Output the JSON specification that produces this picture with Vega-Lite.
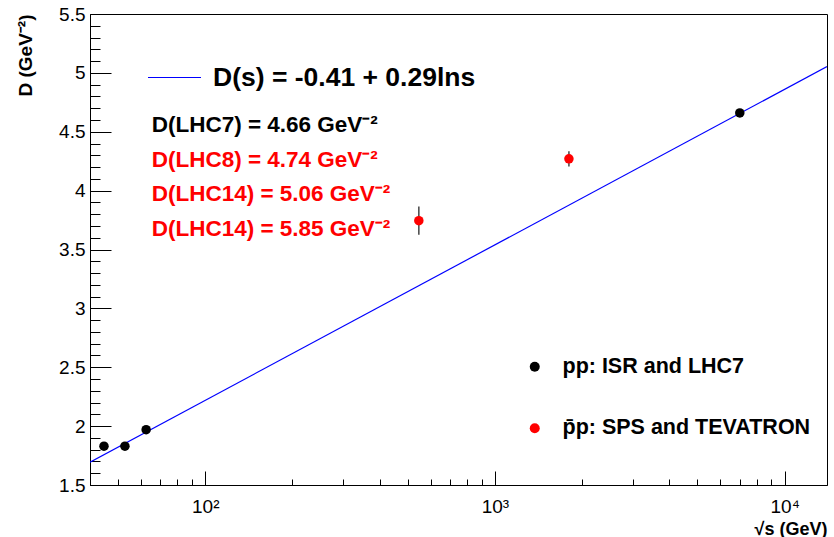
{
  "$schema": "https://vega.github.io/schema/vega-lite/v6.json",
  "autosize": {"type": "none"},
  "padding": {"left": 90, "top": 14, "right": 7, "bottom": 52},
  "width": 737,
  "height": 471,
  "background": "white",
  "config": {
    "font": "Liberation Sans",
    "view": {"stroke": "black", "strokeWidth": 1},
    "axis": {"domainColor": "black", "tickColor": "black", "labelColor": "black", "titleColor": "black", "grid": false}
  },
  "datasets": {
    "points": [
      {"sqrts": 44.7, "D": 1.83, "beam": "pp: ISR and LHC7"},
      {"sqrts": 52.8, "D": 1.83, "beam": "pp: ISR and LHC7"},
      {"sqrts": 62.5, "D": 1.97, "beam": "pp: ISR and LHC7"},
      {"sqrts": 7000, "D": 4.66, "beam": "pp: ISR and LHC7"},
      {"sqrts": 546, "D": 3.745, "Dlo": 3.625, "Dhi": 3.865, "beam": "p̄p: SPS and TEVATRON"},
      {"sqrts": 1800, "D": 4.27, "Dlo": 4.205, "Dhi": 4.335, "beam": "p̄p: SPS and TEVATRON"}
    ],
    "fit": [
      {"sqrts": 40, "D": 1.694, "fit": "D(s) = -0.41 + 0.29lns"},
      {"sqrts": 14000, "D": 5.053, "fit": "D(s) = -0.41 + 0.29lns"}
    ]
  },
  "layer": [
    {
      "data": {"name": "fit"},
      "mark": {"type": "line", "strokeWidth": 1.2, "clip": true},
      "encoding": {
        "x": {
          "field": "sqrts", "type": "quantitative",
          "scale": {"type": "log", "domain": [40, 14000], "nice": false, "zero": false},
          "axis": {
            "values": [50, 60, 70, 80, 90, 100, 200, 300, 400, 500, 600, 700, 800, 900, 1000, 2000, 3000, 4000, 5000, 6000, 7000, 8000, 9000, 10000],
            "tickCount": 200,
            "tickSize": {"condition": {"test": "abs(log(datum.value)/LN10 - round(log(datum.value)/LN10)) < 0.001", "value": -14}, "value": -6},
            "labelExpr": "datum.value == 100 ? '10²' : datum.value == 1000 ? '10³' : datum.value == 10000 ? '10⁴' : ''",
            "labelFontSize": 19,
            "labelPadding": 26,
            "labelOverlap": false,
            "labelFlush": false,
            "title": "√s (GeV)",
            "titleAnchor": "end",
            "titleFontSize": 18,
            "titleFontWeight": "bold",
            "titlePadding": -4
          }
        },
        "y": {
          "field": "D", "type": "quantitative",
          "scale": {"domain": [1.5, 5.5], "nice": false, "zero": false},
          "axis": {
            "values": [1.5, 1.6, 1.7, 1.8, 1.9, 2.0, 2.1, 2.2, 2.3, 2.4, 2.5, 2.6, 2.7, 2.8, 2.9, 3.0, 3.1, 3.2, 3.3, 3.4, 3.5, 3.6, 3.7, 3.8, 3.9, 4.0, 4.1, 4.2, 4.3, 4.4, 4.5, 4.6, 4.7, 4.8, 4.9, 5.0, 5.1, 5.2, 5.3, 5.4, 5.5],
            "tickCount": 200,
            "tickSize": {"condition": {"test": "abs(datum.value*2 - round(datum.value*2)) < 0.001", "value": -21}, "value": -10},
            "labelExpr": "abs(datum.value*2 - round(datum.value*2)) < 0.001 ? toString(round(datum.value*10)/10) : ''",
            "labelFontSize": 19,
            "labelPadding": 26,
            "labelOverlap": false,
            "labelFlush": false,
            "title": "D (GeV⁻²)",
            "titleAnchor": "end",
            "titleFontSize": 19,
            "titleFontWeight": "bold",
            "titlePadding": 23
          }
        },
        "stroke": {
          "field": "fit", "type": "nominal",
          "scale": {"range": ["#0000ff"]},
          "legend": {
            "orient": "none", "legendX": 57, "legendY": 36, "title": null, "padding": 0,
            "symbolType": "stroke", "symbolSize": 2809, "symbolStrokeWidth": 1.2, "symbolStrokeColor": "#0000ff",
            "labelFontSize": 26.5, "labelFontWeight": "bold", "labelColor": "black", "labelOffset": 11, "labelLimit": 600
          }
        }
      }
    },
    {
      "data": {"name": "points"},
      "transform": [{"filter": "isValid(datum.Dlo)"}],
      "mark": {"type": "rule", "color": "#444444", "strokeWidth": 1.5},
      "encoding": {
        "x": {"field": "sqrts", "type": "quantitative"},
        "y": {"field": "Dlo", "type": "quantitative"},
        "y2": {"field": "Dhi"}
      }
    },
    {
      "data": {"name": "points"},
      "mark": {"type": "point", "filled": true, "shape": "circle", "size": 90, "opacity": 1},
      "encoding": {
        "x": {"field": "sqrts", "type": "quantitative"},
        "y": {"field": "D", "type": "quantitative"},
        "fill": {
          "field": "beam", "type": "nominal",
          "scale": {"domain": ["pp: ISR and LHC7", "p̄p: SPS and TEVATRON"], "range": ["black", "#ff0000"]},
          "legend": {
            "orient": "none", "legendX": 434, "legendY": 342, "title": null, "padding": 0,
            "symbolType": "circle", "symbolSize": 100, "symbolStrokeWidth": 0, "symbolOpacity": 1,
            "labelFontSize": 21.5, "labelFontWeight": "bold", "labelColor": "black", "labelOffset": 17, "labelLimit": 600,
            "rowPadding": 38.5
          }
        }
      }
    },
    {
      "data": {"values": [{"note": "D(LHC7) = 4.66 GeV⁻²"}]},
      "mark": {"type": "text", "align": "left", "baseline": "alphabetic", "fontSize": 22.5, "fontWeight": "bold", "color": "black"},
      "encoding": {"x": {"datum": 65.3}, "y": {"datum": 4.5}, "text": {"field": "note"}}
    },
    {
      "data": {"values": [{"note": "D(LHC8) = 4.74 GeV⁻²"}]},
      "mark": {"type": "text", "align": "left", "baseline": "alphabetic", "fontSize": 22.5, "fontWeight": "bold", "color": "#ff0000"},
      "encoding": {"x": {"datum": 65.3}, "y": {"datum": 4.202}, "text": {"field": "note"}}
    },
    {
      "data": {"values": [{"note": "D(LHC14) = 5.06 GeV⁻²"}]},
      "mark": {"type": "text", "align": "left", "baseline": "alphabetic", "fontSize": 22.5, "fontWeight": "bold", "color": "#ff0000"},
      "encoding": {"x": {"datum": 65.3}, "y": {"datum": 3.913}, "text": {"field": "note"}}
    },
    {
      "data": {"values": [{"note": "D(LHC14) = 5.85 GeV⁻²"}]},
      "mark": {"type": "text", "align": "left", "baseline": "alphabetic", "fontSize": 22.5, "fontWeight": "bold", "color": "#ff0000"},
      "encoding": {"x": {"datum": 65.3}, "y": {"datum": 3.615}, "text": {"field": "note"}}
    }
  ]
}
